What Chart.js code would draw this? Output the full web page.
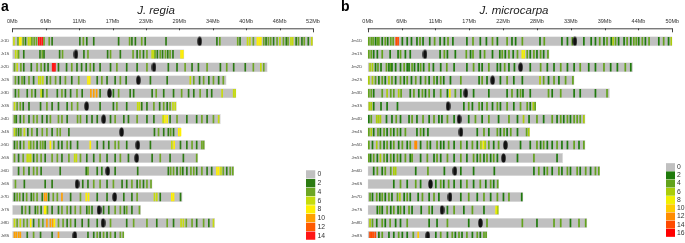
<!DOCTYPE html>
<html lang="en">
<head>
    <meta charset="UTF-8">
    <title>Chromosome density J. regia / J. microcarpa</title>
    <script src="https://cdn.jsdelivr.net/npm/chart.js"></script>
    <style>
        body { margin: 0; background: #fff; }
        #wrap { position: relative; width: 685px; height: 243px; }
        canvas { position: absolute; }
    </style>
</head>
<body>
<div id="wrap">
    <canvas id="chartA" width="340" height="243" style="left:0;top:0"></canvas>
    <canvas id="chartB" width="345" height="243" style="left:340px;top:0"></canvas>
    <canvas id="legA" width="34" height="70" style="left:306px;top:169.5px"></canvas>
    <canvas id="legB" width="20" height="74" style="left:665.5px;top:162.5px"></canvas>
</div>

<script>
// ---- J. regia (panel a) ----
const jrNames = ['Jr1D','Jr1S','Jr2D','Jr2S','Jr3D','Jr3S','Jr4D','Jr4S','Jr5D','Jr5S','Jr6D','Jr6S','Jr7D','Jr7S','Jr8D','Jr8S'];
const jrLengths = [52.1, 29.7, 44.1, 37.0, 38.7, 28.4, 36.0, 29.1, 33.3, 32.1, 38.3, 24.2, 29.4, 22.2, 35.0, 19.3];
const jrCentromeres = [32.4, 11.0, 24.5, 21.8, 16.8, 12.85, 15.8, 18.9, 21.7, 21.5, 16.5, 11.2, 17.7, 15.0, 15.7, 10.8];
const jrTicks = ['0Mb','6Mb','11Mb','17Mb','23Mb','29Mb','34Mb','40Mb','46Mb','52Mb'];
// [position Mb, SNP density class]
const jrStripes = [
    [[0.2,6],[0.9,4],[1.2,8],[1.4,8],[1.8,4],[2.2,2],[2.7,6],[3.0,6],[3.3,4],[3.7,4],[4.1,4],[4.5,14],[4.8,14],[5.1,14],[5.4,4],[6.3,4],[6.8,2],[11.6,2],[12.2,4],[12.8,2],[14.0,2],[18.3,2],[20.2,4],[20.6,2],[21.2,2],[22.3,4],[22.9,2],[26.5,2],[35.3,2],[35.8,4],[38.9,4],[39.3,2],[40.6,6],[41.0,6],[41.6,4],[42.3,8],[42.6,8],[42.9,8],[43.4,4],[43.8,2],[44.2,4],[44.6,4],[45.1,2],[45.7,4],[46.2,6],[46.8,4],[47.3,2],[47.6,4],[48.1,6],[48.4,6],[49.0,2],[49.4,4],[50.0,2],[50.4,4],[51.1,2],[51.7,6]],
    [[0.5,6],[0.9,6],[1.0,4],[1.9,2],[4.7,2],[5.1,4],[5.4,2],[8.1,2],[8.6,4],[12.3,2],[13.0,4],[16.4,2],[16.9,4],[18.6,2],[20.8,4],[21.5,2],[22.0,4],[22.6,2],[23.2,4],[24.1,6],[24.4,6],[24.6,4],[25.0,2],[25.5,4],[25.9,2],[26.4,4],[26.8,2],[27.2,4],[27.7,2],[29.1,8],[29.4,8]],
    [[0.3,4],[0.75,6],[1.4,4],[1.9,2],[3.2,2],[4.2,4],[4.9,4],[5.5,2],[6.1,2],[6.9,14],[7.1,14],[7.3,14],[7.9,2],[9.3,2],[10.2,4],[11.1,2],[11.9,2],[12.7,2],[13.4,4],[14.0,2],[15.1,2],[16.9,2],[18.0,4],[19.7,2],[21.5,2],[23.2,4],[26.9,2],[28.4,2],[29.8,4],[31.0,2],[32.1,2],[33.6,4],[35.9,2],[37.0,4],[38.2,2],[40.2,2],[41.6,4],[42.9,6],[43.4,4]],
    [[0.46,4],[1.0,2],[1.6,4],[2.0,2],[2.8,4],[3.6,2],[4.5,6],[4.8,6],[5.2,6],[5.9,2],[6.5,4],[7.4,4],[8.2,2],[9.1,4],[10.2,2],[11.4,4],[13.0,8],[13.3,8],[14.6,2],[15.4,4],[16.3,2],[17.7,2],[18.6,4],[19.6,2],[23.8,2],[26.7,2],[30.7,6],[31.3,4],[32.3,2],[33.0,4],[33.9,2],[34.7,4],[35.6,2],[36.4,4]],
    [[0.46,2],[1.0,4],[2.5,2],[3.3,4],[3.9,2],[4.9,6],[5.2,2],[5.9,4],[7.7,2],[8.5,4],[9.1,2],[10.0,2],[11.1,4],[12.0,2],[13.5,10],[14.0,10],[14.5,10],[15.1,2],[17.4,2],[18.3,4],[20.3,2],[20.9,2],[24.1,2],[24.8,4],[26.1,2],[27.8,2],[29.2,4],[30.4,2],[31.3,2],[32.4,4],[33.6,2],[34.4,2],[36.2,6],[38.2,6],[38.45,6]],
    [[0.3,6],[0.75,4],[1.3,4],[1.8,2],[2.8,2],[4.8,2],[5.9,4],[6.8,2],[7.9,2],[9.4,2],[10.2,4],[11.2,4],[15.1,2],[17.4,2],[18.0,4],[19.7,2],[21.6,6],[21.9,6],[22.3,2],[23.2,2],[24.4,4],[25.4,2],[26.1,4],[26.7,2],[27.2,4],[27.7,6],[28.1,6]],
    [[0.3,4],[0.6,2],[1.3,2],[1.9,4],[2.8,2],[3.6,4],[4.2,4],[5.1,2],[5.9,2],[6.5,4],[7.9,4],[8.5,4],[9.4,2],[11.2,4],[11.7,4],[12.8,2],[13.7,2],[14.6,2],[16.9,2],[17.7,4],[19.2,2],[20.0,2],[21.5,4],[23.2,2],[24.4,2],[26.0,6],[26.3,8],[26.7,8],[27.2,2],[28.4,4],[30.1,2],[31.8,2],[32.7,4],[33.6,2],[34.7,4],[35.6,6]],
    [[0.3,6],[0.6,4],[1.0,2],[1.4,4],[2.0,6],[2.6,2],[3.3,4],[4.2,2],[5.1,4],[5.9,4],[6.8,2],[7.7,4],[8.2,4],[9.7,2],[24.5,2],[25.2,4],[26.1,2],[26.9,2],[27.3,4],[27.8,2],[28.7,8],[29.0,8]],
    [[0.3,2],[0.75,4],[1.3,2],[1.9,4],[2.8,6],[3.1,4],[3.6,4],[4.2,2],[4.8,4],[5.2,4],[5.6,2],[6.5,8],[7.1,4],[7.9,2],[8.5,2],[9.4,4],[10.0,2],[11.2,2],[13.4,8],[14.6,2],[15.7,2],[16.6,2],[17.7,4],[18.3,4],[19.7,2],[23.8,2],[27.5,6],[27.9,8],[29.0,2],[30.1,2],[31.0,4],[31.8,2],[32.7,4],[33.0,4]],
    [[0.3,4],[1.0,2],[1.8,4],[2.5,6],[2.8,6],[3.1,6],[3.6,2],[4.2,4],[4.9,4],[5.6,2],[6.8,4],[7.7,4],[8.5,2],[9.7,4],[10.7,6],[11.0,6],[11.7,4],[12.8,2],[14.0,2],[15.1,4],[16.3,2],[17.7,2],[18.6,4],[20.0,2],[24.1,2],[25.5,4],[27.2,2],[29.5,2],[31.8,4]],
    [[1.0,2],[1.9,4],[2.8,2],[3.6,4],[4.2,4],[4.9,2],[8.2,2],[12.7,2],[13.0,4],[14.6,2],[15.4,2],[17.7,2],[21.6,2],[26.9,2],[27.3,4],[27.8,4],[28.4,2],[29.0,4],[29.4,2],[30.1,2],[30.8,4],[31.3,4],[31.8,2],[32.7,4],[33.6,2],[34.4,2],[35.3,8],[35.6,8],[36.0,6],[36.4,4],[37.0,2],[37.6,4],[38.05,4]],
    [[0.46,4],[2.0,2],[5.6,2],[6.8,2],[12.1,2],[13.0,2],[14.0,4],[15.1,4],[16.3,2],[17.4,4],[18.9,2],[19.7,2],[20.6,4],[21.5,2],[22.0,4],[22.6,2],[23.2,4],[23.9,4]],
    [[0.3,2],[0.75,4],[1.2,4],[1.8,2],[2.4,4],[3.2,2],[3.6,4],[4.2,4],[5.1,2],[5.5,10],[5.8,10],[6.2,2],[7.0,4],[7.7,4],[8.5,10],[10.0,2],[11.7,4],[12.7,8],[13.1,8],[14.6,2],[16.3,2],[19.2,2],[20.6,2],[21.5,4],[24.5,6],[24.9,6],[25.5,2],[27.5,8],[27.8,8],[29.0,2]],
    [[1.6,2],[2.2,4],[2.9,2],[3.9,2],[4.3,4],[4.9,2],[5.5,8],[5.7,8],[6.0,4],[6.8,2],[7.9,2],[8.5,4],[9.4,4],[10.0,2],[10.8,4],[11.7,4],[12.8,2],[13.2,4],[13.7,2],[15.7,2],[16.6,2],[17.7,4],[18.6,4],[19.3,2],[19.7,4],[20.6,2],[21.9,4]],
    [[0.3,6],[0.75,4],[1.3,6],[1.9,4],[2.5,4],[3.1,8],[3.6,2],[4.5,4],[5.2,4],[5.9,10],[6.5,10],[6.9,10],[7.2,8],[7.9,4],[8.7,4],[9.4,2],[10.0,4],[10.8,2],[12.0,2],[13.1,2],[14.6,2],[16.9,4],[19.7,2],[20.9,4],[23.2,4],[24.9,2],[26.7,4],[27.8,2],[29.1,6],[29.5,6],[30.0,4],[31.0,4],[31.8,2],[33.0,4],[33.9,2],[34.7,6]],
    [[0.3,10],[0.6,10],[1.0,10],[1.3,10],[2.5,2],[3.6,4],[4.8,2],[6.8,2],[7.9,10],[13.0,2],[14.0,2],[14.6,4],[15.1,2],[15.7,4],[16.3,2],[16.9,4],[17.7,2],[18.6,4],[19.1,4]]
];

// ---- J. microcarpa (panel b) ----
const jmNames = ['Jm1D','Jm1S','Jm2D','Jm2S','Jm3D','Jm3S','Jm4D','Jm4S','Jm5D','Jm5S','Jm6D','Jm6S','Jm7D','Jm7S','Jm8D','Jm8S'];
const jmLengths = [50.0, 29.8, 43.5, 33.9, 39.7, 27.6, 35.7, 26.6, 35.7, 32.0, 38.1, 21.5, 25.5, 21.5, 36.0, 19.6];
const jmCentromeres = [34.0, 9.4, 25.1, 20.5, 16.1, 13.2, 15.0, 15.3, 22.6, 22.3, 14.3, 10.3, 13.5, 12.2, 18.5, 9.85];
const jmTicks = ['0Mb','6Mb','11Mb','17Mb','22Mb','28Mb','33Mb','39Mb','44Mb','50Mb'];
const jmStripes = [
    [[0.1,4],[0.5,4],[0.8,4],[1.2,2],[1.5,4],[1.75,4],[2.3,2],[2.8,4],[3.2,2],[3.7,4],[4.1,4],[4.6,14],[4.9,14],[5.6,2],[6.4,2],[7.1,2],[8.0,2],[8.5,4],[9.0,2],[10.1,2],[10.9,4],[11.8,2],[12.5,2],[13.1,4],[13.9,2],[16.2,2],[17.2,4],[18.4,2],[19.4,2],[20.4,4],[21.2,2],[22.8,4],[23.6,2],[24.2,2],[25.3,4],[28.2,2],[28.9,4],[31.8,2],[32.7,2],[33.5,4],[35.4,2],[36.6,2],[37.3,2],[38.0,4],[38.7,2],[39.2,4],[39.9,2],[40.2,6],[40.6,4],[41.1,2],[42.0,2],[42.5,4],[43.1,2],[43.6,4],[44.0,4],[44.4,2],[45.0,4],[45.5,2],[46.1,4],[47.7,2],[48.5,4],[49.3,2],[49.75,6]],
    [[0.1,4],[0.5,4],[0.9,2],[1.5,2],[2.3,4],[3.6,2],[4.9,2],[5.3,4],[6.1,2],[6.9,2],[11.8,2],[12.5,4],[13.0,2],[14.3,2],[16.1,4],[16.8,2],[17.2,4],[18.4,2],[19.1,4],[20.4,2],[21.6,2],[22.0,4],[22.5,2],[23.1,4],[23.8,2],[24.5,4],[25.3,8],[25.6,8],[26.1,4],[26.6,2],[27.2,4],[27.7,2],[28.3,4],[28.8,2],[29.5,4]],
    [[0.3,6],[0.7,6],[1.2,2],[1.6,4],[2.1,2],[3.0,4],[3.4,2],[3.7,4],[3.9,2],[4.5,2],[5.3,2],[5.9,4],[6.4,2],[6.7,2],[7.2,4],[7.6,2],[8.2,2],[8.6,4],[9.1,2],[10.0,4],[10.7,2],[11.9,2],[12.9,4],[14.1,2],[16.2,2],[17.3,4],[18.2,2],[18.7,2],[19.8,4],[21.2,2],[21.7,2],[22.4,4],[23.1,2],[24.0,2],[26.6,2],[28.3,4],[29.4,2],[30.5,2],[31.6,4],[32.7,2],[33.8,2],[34.8,4],[36.2,2],[37.3,2],[38.7,4],[39.8,2],[40.9,2],[42.2,4],[43.1,2]],
    [[0.1,6],[0.7,6],[1.2,4],[1.75,2],[2.3,4],[2.8,2],[3.4,6],[3.9,4],[4.5,2],[5.3,4],[5.9,2],[6.4,4],[7.1,2],[7.8,4],[8.6,2],[9.4,4],[10.0,2],[10.8,4],[11.3,2],[11.9,4],[12.4,2],[13.5,2],[15.2,4],[18.2,2],[18.7,4],[19.5,2],[21.7,2],[22.8,4],[23.9,2],[25.3,2],[28.2,6],[28.8,4],[29.6,2],[30.5,4],[31.3,2],[32.4,4],[33.6,4]],
    [[0.1,4],[0.5,4],[0.9,2],[2.3,4],[3.1,6],[3.7,4],[4.2,4],[5.0,6],[5.4,4],[6.9,2],[7.5,4],[8.3,2],[8.9,4],[9.4,2],[10.0,4],[10.8,2],[11.9,4],[13.0,2],[13.4,8],[14.3,4],[15.2,2],[17.3,2],[19.8,2],[22.8,2],[23.6,4],[24.5,2],[25.0,4],[25.4,2],[26.6,2],[29.6,4],[30.2,2],[31.6,4],[33.8,2],[34.8,2],[37.3,2],[39.2,4]],
    [[0.2,6],[0.5,6],[0.9,2],[2.1,2],[3.1,2],[4.8,2],[15.7,2],[16.5,4],[17.1,2],[18.2,4],[18.7,2],[19.5,4],[20.4,2],[21.2,4],[21.7,2],[22.8,4],[23.9,2],[25.0,4],[26.1,4],[26.6,2],[27.1,6],[27.4,4]],
    [[0.1,2],[0.5,4],[1.4,6],[1.7,6],[2.0,6],[3.0,2],[3.9,2],[4.6,4],[5.3,2],[6.7,2],[7.2,4],[8.0,2],[9.0,4],[10.0,2],[10.8,4],[11.6,2],[12.1,2],[13.0,4],[14.1,2],[16.5,2],[17.6,4],[18.7,2],[19.8,4],[21.4,2],[23.1,4],[24.5,2],[25.5,6],[26.4,2],[27.7,4],[28.8,2],[30.2,4],[31.0,2],[31.6,4],[32.1,2],[32.7,4],[33.2,2],[33.8,4],[34.3,4],[34.8,4],[35.4,6]],
    [[0.1,4],[0.5,6],[0.9,2],[1.6,4],[2.0,2],[2.6,4],[3.1,2],[3.7,4],[4.2,2],[4.8,4],[5.3,2],[6.1,4],[8.0,2],[8.6,4],[9.1,2],[9.8,2],[17.9,2],[19.0,4],[19.8,2],[21.2,4],[21.7,2],[22.3,4],[22.8,2],[23.4,4],[24.5,2],[26.0,4],[26.35,6]],
    [[0.1,4],[0.7,2],[1.4,6],[2.0,4],[2.6,2],[3.1,4],[3.7,2],[4.2,4],[5.0,2],[5.6,4],[6.4,2],[6.9,4],[7.7,12],[7.9,12],[8.6,2],[9.7,4],[10.2,2],[11.3,4],[11.9,2],[12.4,2],[13.2,4],[14.1,2],[15.2,4],[16.2,2],[17.1,4],[17.9,2],[18.5,6],[18.9,8],[19.2,6],[19.8,4],[20.6,2],[21.4,4],[25.0,2],[26.6,2],[27.7,4],[28.3,2],[28.8,4],[29.4,2],[30.2,2],[31.0,4],[31.8,2],[32.7,2],[33.8,4],[34.6,2],[35.4,4]],
    [[0.1,4],[0.4,2],[0.9,4],[1.5,2],[2.0,6],[2.6,4],[3.1,2],[3.7,4],[4.2,2],[4.8,4],[5.3,2],[6.1,4],[6.9,2],[7.2,4],[8.6,2],[9.7,4],[10.8,2],[11.3,4],[11.9,2],[13.0,4],[14.1,2],[15.2,4],[16.2,2],[17.3,4],[17.9,2],[18.4,4],[19.0,2],[19.5,4],[20.1,2],[20.6,4],[21.2,2],[24.5,2],[27.2,4],[31.0,2]],
    [[0.9,2],[1.5,4],[2.3,2],[2.8,4],[3.7,4],[4.2,6],[4.5,6],[7.8,2],[9.8,4],[12.5,2],[15.2,2],[17.3,2],[20.7,2],[27.2,2],[28.0,4],[28.9,2],[29.4,4],[30.2,2],[31.3,4],[31.8,2],[32.7,4],[33.2,2],[34.3,4],[34.8,2],[35.7,4],[36.5,2],[37.3,4],[37.85,4]],
    [[4.2,2],[5.3,4],[6.4,2],[7.8,4],[8.6,2],[11.1,2],[11.9,4],[12.4,2],[13.2,4],[14.1,2],[15.2,2],[16.2,4],[17.3,2],[18.4,4],[19.3,2],[20.1,4],[20.6,2],[21.25,4]],
    [[0.3,4],[0.7,2],[1.4,4],[1.9,2],[2.3,4],[2.8,2],[3.4,4],[3.9,2],[4.8,4],[5.2,6],[5.9,2],[6.4,4],[6.9,2],[8.2,2],[8.9,4],[10.0,2],[10.8,4],[11.6,2],[15.2,2],[16.5,4],[17.9,2],[19.0,4],[20.1,2],[21.2,4],[22.2,2],[23.1,4],[25.2,2]],
    [[1.5,2],[1.9,4],[2.3,2],[3.1,4],[3.7,2],[4.2,4],[4.9,2],[5.3,4],[5.9,2],[6.7,4],[7.2,2],[8.7,2],[10.0,4],[10.5,2],[13.0,2],[14.1,4],[15.7,2],[17.1,4],[19.0,2],[21.0,8],[21.25,6]],
    [[0.3,6],[0.7,4],[1.4,2],[2.3,4],[2.8,2],[3.6,4],[4.5,2],[5.3,2],[6.4,4],[10.0,2],[11.3,2],[13.0,4],[16.5,2],[19.5,4],[25.3,4],[27.7,2],[30.5,4],[31.6,4],[33.2,2],[34.6,4],[35.7,4]],
    [[0.3,14],[0.55,14],[0.8,14],[1.15,14],[1.75,2],[2.3,4],[3.4,2],[4.2,2],[5.0,4],[5.6,2],[6.4,2],[7.4,4],[8.2,10],[11.1,2],[11.9,4],[13.0,2],[13.8,4],[14.3,2],[14.9,4],[15.4,2],[16.2,4],[17.1,2],[17.9,4],[18.4,2],[19.0,4],[19.35,4]]
];

// legend classes
const jrLegendValues = ['0','2','4','6','8','10','12','14'];
const jmLegendValues = ['0','2','4','6','8','10','12','14','16'];
const jrPalette = {0:'#c0c0c0', 2:'#2c7b12', 4:'#6da624', 6:'#c6dc0c', 8:'#fff000', 10:'#ffa000', 12:'#ff5a00', 14:'#ff1616'};
const jmPalette = {0:'#c0c0c0', 2:'#1f7a0c', 4:'#62a31c', 6:'#aacd0a', 8:'#f2f000', 10:'#ffcc00', 12:'#ff8c00', 14:'#ff4a00', 16:'#ff0000'};

const FONT = "'Liberation Sans', Arial, sans-serif";

// black oval used as the centromere point style
function centroMark() {
    const c = document.createElement('canvas');
    c.width = 5; c.height = 10;
    const g = c.getContext('2d');
    g.fillStyle = '#111';
    g.beginPath();
    g.ellipse(2.5, 5, 2.2, 4.6, 0, 0, Math.PI * 2);
    g.fill();
    return c;
}

function drawPanel(id, cfg) {
    const rows = cfg.names.map((n, i) => i);
    const bodies = cfg.lengths.map((len, i) => ({ x: [0, len], y: i }));
    const stripeData = [], stripeColors = [];
    cfg.stripes.forEach((list, i) => {
        list.forEach(([p, v]) => {
            stripeData.push({ x: [p, p + 0.17], y: i });
            stripeColors.push(cfg.palette[v]);
        });
    });
    const centros = cfg.centromeres.map((c, i) => ({ x: c, y: i }));

    const overlay = {
        id: 'overlay',
        afterDraw(chart) {
            const ctx = chart.ctx;
            const xs = chart.scales.x;
            const yLine = xs.bottom;
            ctx.save();
            // axis line with downward ticks
            ctx.strokeStyle = '#444';
            ctx.lineWidth = 1;
            ctx.beginPath();
            ctx.moveTo(xs.getPixelForValue(0), yLine + 0.5);
            ctx.lineTo(xs.getPixelForValue(cfg.max), yLine + 0.5);
            xs.ticks.forEach((t, k) => {
                const px = Math.round(xs.getPixelForValue(t.value)) + 0.5;
                const len = (k === 0 || k === xs.ticks.length - 1) ? 4 : 2;
                ctx.moveTo(px, yLine);
                ctx.lineTo(px, yLine + len);
            });
            ctx.stroke();
            // panel letter and title
            ctx.fillStyle = '#000';
            ctx.font = 'bold 14px ' + FONT;
            ctx.textBaseline = 'alphabetic';
            ctx.textAlign = 'left';
            ctx.fillText(cfg.letter, cfg.letterX, 11);
            ctx.font = 'italic 11.5px ' + FONT;
            ctx.textAlign = 'center';
            ctx.fillStyle = '#222';
            ctx.fillText(cfg.title, cfg.titleX, 13.5);
            ctx.restore();
        }
    };

    new Chart(document.getElementById(id), {
        type: 'bar',
        data: {
            datasets: [
                {
                    data: bodies, indexAxis: 'y', grouped: false,
                    backgroundColor: '#c0c0c0', borderColor: '#dedede',
                    borderWidth: 0.8, borderSkipped: false, barThickness: 9.4, order: 3
                },
                {
                    data: stripeData, indexAxis: 'y', grouped: false,
                    backgroundColor: stripeColors, borderWidth: 0,
                    barThickness: 7.8, order: 2
                },
                {
                    type: 'scatter', data: centros,
                    pointStyle: centroMark(), pointRadius: 3, order: 1
                }
            ]
        },
        options: {
            responsive: false,
            animation: false,
            events: [],
            layout: { padding: { top: 0, left: 0, right: cfg.padRight, bottom: 1.8 } },
            plugins: { legend: { display: false }, tooltip: { enabled: false } },
            scales: {
                x: {
                    type: 'linear', position: 'top', min: 0, max: cfg.max, offset: false,
                    grid: { display: false, drawTicks: false, offset: false },
                    border: { display: false },
                    afterBuildTicks: s => { s.ticks = cfg.ticks.map((l, k) => ({ value: k * cfg.max / 9 })); },
                    afterFit: s => { s.height = 28.3; s.paddingLeft = 0; s.paddingRight = 0; },
                    ticks: {
                        autoSkip: false, maxRotation: 0, padding: 3.5, color: '#333',
                        font: { family: FONT, size: 5.5 },
                        callback: (v, k) => cfg.ticks[k]
                    }
                },
                y: {
                    type: 'linear', reverse: true, min: -1, max: 15.16, offset: false,
                    grid: { display: false, drawTicks: false, offset: false },
                    border: { display: false },
                    afterBuildTicks: s => { s.ticks = rows.map(r => ({ value: r })); },
                    afterFit: s => { s.width = cfg.left; s.paddingTop = 0; s.paddingBottom = 0; },
                    ticks: {
                        autoSkip: false, padding: cfg.labelPad, color: '#444',
                        font: { family: FONT, size: 4.2 },
                        callback: v => cfg.names[v]
                    }
                }
            }
        },
        plugins: [overlay]
    });
}

function drawLegend(id, values, palette, boxWidth) {
    new Chart(document.getElementById(id), {
        type: 'bar',
        data: {
            labels: values,
            datasets: [{
                data: values.map(() => [0, 1]),
                backgroundColor: values.map(v => palette[+v]),
                barPercentage: 1, categoryPercentage: 0.96
            }]
        },
        options: {
            indexAxis: 'y',
            responsive: false,
            animation: false,
            events: [],
            layout: { padding: 0 },
            plugins: { legend: { display: false }, tooltip: { enabled: false } },
            scales: {
                x: { display: false, min: 0, max: 1 },
                y: {
                    position: 'right',
                    grid: { display: false, drawTicks: false },
                    border: { display: false },
                    afterFit: s => { s.width = s.chart.width - boxWidth; s.paddingTop = 0; s.paddingBottom = 0; },
                    ticks: { autoSkip: false, padding: 2, color: '#333', font: { family: FONT, size: 6.8 } }
                }
            }
        }
    });
}

drawPanel('chartA', {
    names: jrNames, lengths: jrLengths, centromeres: jrCentromeres, stripes: jrStripes,
    ticks: jrTicks, max: 52, palette: jrPalette,
    left: 12.3, padRight: 27, labelPad: 3, letter: 'a', letterX: 1, title: 'J. regia', titleX: 156
});
drawPanel('chartB', {
    names: jmNames, lengths: jmLengths, centromeres: jmCentromeres, stripes: jmStripes,
    ticks: jmTicks, max: 50, palette: jmPalette,
    left: 27.7, padRight: 12.7, labelPad: 5.5, letter: 'b', letterX: 1, title: 'J. microcarpa', titleX: 174
});
drawLegend('legA', jrLegendValues, jrPalette, 9.5);
drawLegend('legB', jmLegendValues, jmPalette, 9);
</script>
</body>
</html>
